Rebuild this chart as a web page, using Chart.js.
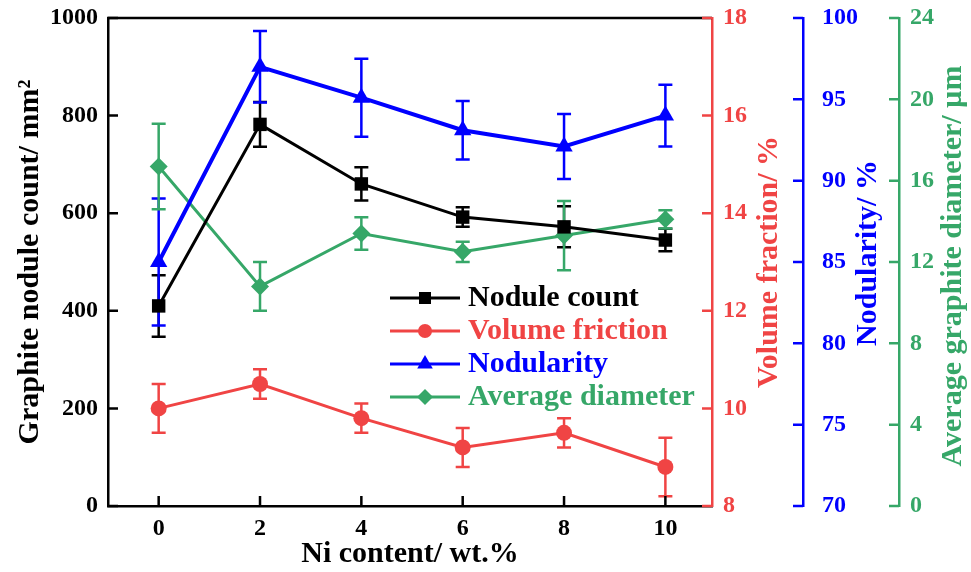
<!DOCTYPE html>
<html>
<head>
<meta charset="utf-8">
<script src="https://cdn.jsdelivr.net/npm/chart.js@4.4.0/dist/chart.umd.min.js"></script>
<style>
  html, body { margin: 0; padding: 0; background: #fff; }
  #wrap { width: 971px; height: 572px; }
</style>
</head>
<body>
<div id="wrap"><canvas id="chart" width="971" height="572"></canvas></div>
<script>
// Ni content (wt.%)
const NI = [0, 2, 4, 6, 8, 10];

// series, with their error bars
const NODULE_COUNT = [410, 782, 660, 592, 572, 545];
const NODULE_COUNT_ERR = [63, 46, 34, 20, 42, 23];
const VOLUME_FRACTION = [10.0, 10.5, 9.8, 9.2, 9.5, 8.8];
const VOLUME_FRACTION_ERR = [0.5, 0.3, 0.3, 0.4, 0.3, 0.6];
const NODULARITY = [85.0, 97.0, 95.1, 93.1, 92.1, 94.0];
const NODULARITY_ERR = [3.9, 2.2, 2.4, 1.8, 2.0, 1.9];
const DIAMETER = [16.7, 10.8, 13.4, 12.5, 13.3, 14.1];
const DIAMETER_ERR = [2.1, 1.2, 0.8, 0.5, 1.7, 0.45];

// tick labels
const X_TICKS = [0, 2, 4, 6, 8, 10];
const COUNT_TICKS = [0, 200, 400, 600, 800, 1000];
const VOLUME_TICKS = [8, 10, 12, 14, 16, 18];
const NODULARITY_TICKS = [70, 75, 80, 85, 90, 95, 100];
const DIAMETER_TICKS = [0, 4, 8, 12, 16, 20, 24];

const LABELS = ["Nodule count", "Volume friction", "Nodularity", "Average diameter"];
const X_TITLE = "Ni content/ wt.%";
const COUNT_TITLE = "Graphite nodule count/ mm\u00B2";
const VOLUME_TITLE = "Volume fraction/ %";
const NODULARITY_TITLE = "Nodularity/ %";
const DIAMETER_TITLE = "Average graphite diameter/ \u00B5m";

const FONT = "'Times New Roman', 'Liberation Serif', serif";
const BLACK = '#000000';
const RED = 'rgb(240,68,68)';
const BLUE = '#0000ff';
const GREEN = 'rgb(54,167,104)';

function pts(ys) {
    return NI.map((x, i) => ({x: x, y: ys[i]}));
}

function fixTicks(list) {
    return scale => { scale.ticks = list.map(v => ({value: v})); };
}

// fixed axis width, no extra room for the end labels
function fixWidth(w) {
    return scale => {
        scale.width = w;
        scale.paddingTop = 0;
        scale.paddingBottom = 0;
    };
}

// error bars, drawn under the markers
const errorBars = {
    id: 'errorBars',
    beforeDatasetsDraw(chart) {
        const ctx = chart.ctx;
        chart.data.datasets.forEach((ds, i) => {
            const meta = chart.getDatasetMeta(i);
            const xs = chart.scales[meta.xAxisID];
            const ys = chart.scales[meta.yAxisID];
            ctx.save();
            ctx.strokeStyle = ds.borderColor;
            ctx.lineWidth = 2.5;
            ds.data.forEach((p, j) => {
                const x = xs.getPixelForValue(p.x);
                const t = ys.getPixelForValue(p.y + ds.errors[j]);
                const b = ys.getPixelForValue(p.y - ds.errors[j]);
                ctx.beginPath();
                ctx.moveTo(x, t); ctx.lineTo(x, b);
                ctx.moveTo(x - 7, t); ctx.lineTo(x + 7, t);
                ctx.moveTo(x - 7, b); ctx.lineTo(x + 7, b);
                ctx.stroke();
            });
            ctx.restore();
        });
    }
};

// inward ticks, top frame, right-hand titles and the legend
const frame = {
    id: 'frame',
    afterDraw(chart) {
        const ctx = chart.ctx;
        const area = chart.chartArea;
        ctx.save();
        ctx.lineWidth = 2.5;

        ctx.strokeStyle = BLACK;
        ctx.beginPath();
        ctx.moveTo(area.left - 1, area.top);
        ctx.lineTo(area.right, area.top);
        ctx.stroke();

        Object.values(chart.scales).forEach(s => {
            ctx.strokeStyle = s.options.border.color;
            ctx.beginPath();
            s.ticks.forEach(t => {
                const p = s.getPixelForValue(t.value);
                if (s.isHorizontal()) {
                    ctx.moveTo(p, s.top); ctx.lineTo(p, s.top - 10);
                } else if (s.position === 'left') {
                    ctx.moveTo(s.right, p); ctx.lineTo(s.right + 10, p);
                } else {
                    ctx.moveTo(s.left, p); ctx.lineTo(s.left - 10, p);
                }
            });
            ctx.stroke();

            const side = s.options.sideTitle;
            if (side) {
                ctx.save();
                ctx.fillStyle = s.options.border.color;
                ctx.font = 'bold 30px ' + FONT;
                ctx.textAlign = 'center';
                ctx.textBaseline = 'middle';
                ctx.translate(s.left + side.dx, (area.top + area.bottom) / 2 + side.dy);
                ctx.rotate(-Math.PI / 2);
                ctx.fillText(side.text, 0, 0);
                ctx.restore();
            }
        });

        // legend
        chart.data.datasets.forEach((ds, i) => {
            const y = 298 + i * 33;
            ctx.strokeStyle = ds.borderColor;
            ctx.fillStyle = ds.borderColor;
            ctx.lineWidth = 3;
            ctx.beginPath();
            ctx.moveTo(390, y); ctx.lineTo(460, y);
            ctx.stroke();
            Chart.helpers.drawPoint(ctx, {
                pointStyle: ds.pointStyle, radius: ds.pointRadius - 1, rotation: 0, borderWidth: 0
            }, 425, y);
            ctx.font = 'bold 30px ' + FONT;
            ctx.textAlign = 'left';
            ctx.textBaseline = 'middle';
            ctx.fillText(ds.label, 468, y);
        });
        ctx.restore();
    }
};

function series(label, data, err, color, style, radius, axis, width) {
    return {
        label: label,
        data: pts(data),
        errors: err,
        yAxisID: axis,
        borderColor: color,
        backgroundColor: color,
        borderWidth: width,
        pointStyle: style,
        pointRadius: radius,
        pointBorderWidth: 0,
        pointHoverRadius: radius,
        tension: 0
    };
}

const tickFont = {family: FONT, size: 24, weight: 'bold'};
const plain = v => String(v);

new Chart(document.getElementById('chart'), {
    type: 'line',
    data: {
        datasets: [
            series(LABELS[0], NODULE_COUNT, NODULE_COUNT_ERR, BLACK, 'rect', 9.5, 'yCount', 3),
            series(LABELS[1], VOLUME_FRACTION, VOLUME_FRACTION_ERR, RED, 'circle', 8, 'yVolume', 3),
            series(LABELS[2], NODULARITY, NODULARITY_ERR, BLUE, 'triangle', 10, 'yNod', 4),
            series(LABELS[3], DIAMETER, DIAMETER_ERR, GREEN, 'rectRot', 9, 'yDia', 3)
        ]
    },
    options: {
        responsive: false,
        animation: false,
        devicePixelRatio: 1,
        layout: {padding: {top: 18, left: 0, right: 0, bottom: 0}},
        plugins: {legend: {display: false}, tooltip: {enabled: false}},
        scales: {
            x: {
                type: 'linear', position: 'bottom', min: -1, max: 10.92,
                afterBuildTicks: fixTicks(X_TICKS),
                afterFit: scale => { scale.height = 66; scale.paddingLeft = 0; scale.paddingRight = 0; },
                grid: {display: false, drawTicks: false},
                border: {color: BLACK, width: 2.5},
                ticks: {color: BLACK, font: tickFont, padding: 8, maxRotation: 0, callback: plain},
                title: {display: true, text: X_TITLE, color: BLACK,
                        font: {family: FONT, size: 30, weight: 'bold'}, padding: {top: 0, bottom: 0}}
            },
            yCount: {
                type: 'linear', position: 'left', min: 0, max: 1000,
                afterBuildTicks: fixTicks(COUNT_TICKS),
                afterFit: fixWidth(108),
                grid: {display: false, drawTicks: false},
                border: {color: BLACK, width: 2.5},
                ticks: {color: BLACK, font: tickFont, padding: 10, callback: plain},
                title: {display: true, text: COUNT_TITLE, color: BLACK,
                        font: {family: FONT, size: 30, weight: 'bold'}, padding: {top: 12, bottom: 0}}
            },
            yVolume: {
                type: 'linear', position: 'right', min: 8, max: 18,
                afterBuildTicks: fixTicks(VOLUME_TICKS),
                afterFit: fixWidth(91),
                grid: {display: false, drawTicks: false},
                border: {color: RED, width: 2.5},
                ticks: {color: RED, font: tickFont, padding: 11, callback: plain},
                sideTitle: {text: VOLUME_TITLE, dx: 57, dy: 0}
            },
            yNod: {
                type: 'linear', position: 'right', min: 70, max: 100,
                afterBuildTicks: fixTicks(NODULARITY_TICKS),
                afterFit: fixWidth(96),
                grid: {display: false, drawTicks: false},
                border: {color: BLUE, width: 2.5},
                ticks: {color: BLUE, font: tickFont, padding: 19, callback: plain},
                sideTitle: {text: NODULARITY_TITLE, dx: 65, dy: -9}
            },
            yDia: {
                type: 'linear', position: 'right', min: 0, max: 24,
                afterBuildTicks: fixTicks(DIAMETER_TICKS),
                afterFit: fixWidth(72),
                grid: {display: false, drawTicks: false},
                border: {color: GREEN, width: 2.5},
                ticks: {color: GREEN, font: tickFont, padding: 11, callback: plain},
                sideTitle: {text: DIAMETER_TITLE, dx: 54, dy: 4}
            }
        }
    },
    plugins: [errorBars, frame]
});
</script>
</body>
</html>
